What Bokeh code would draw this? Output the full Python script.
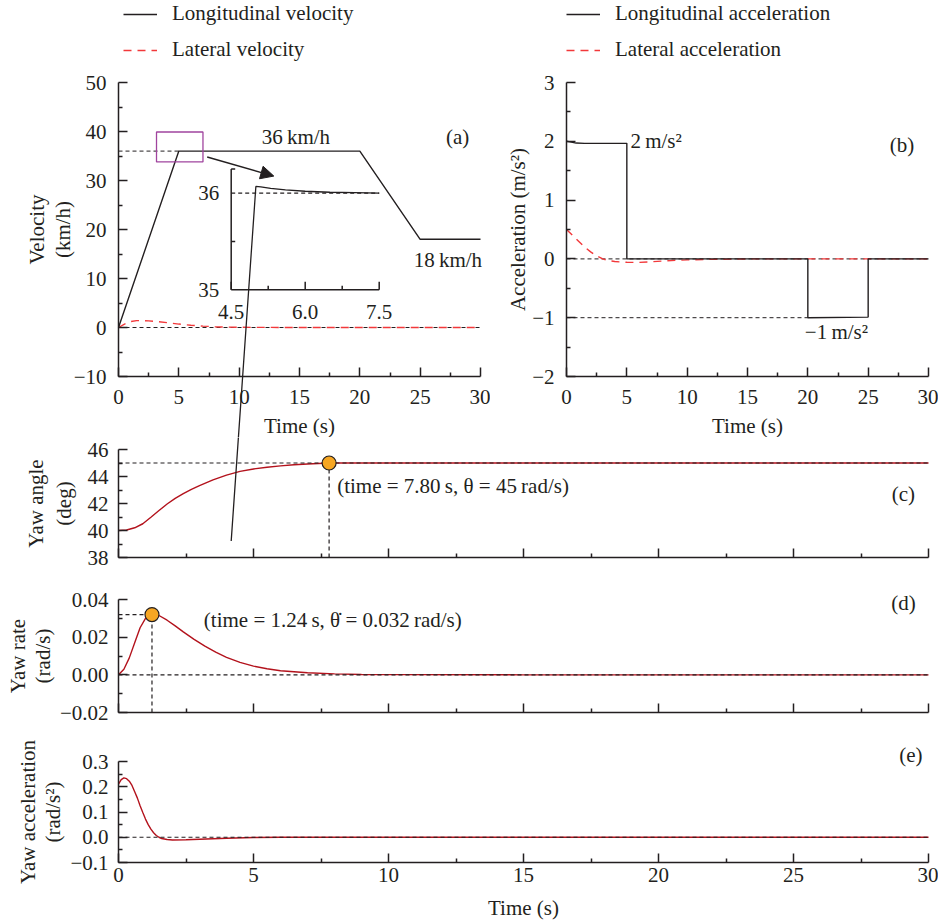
import numpy as np
from bokeh.plotting import figure
from bokeh.layouts import column, row
from bokeh.models import (Range1d, FixedTicker, CustomJSTickFormatter, Legend, LegendItem,
                          Arrow, NormalHead, Label)
from bokeh.core.properties import value
from bokeh.embed import file_html
from bokeh.resources import INLINE

# ---------------- data ----------------
time_ticks = [0, 5, 10, 15, 20, 25, 30]
time_minor = [2.5, 7.5, 12.5, 17.5, 22.5, 27.5]

vel_t = [0, 5, 20, 25, 30]
vel_long = [0, 36, 36, 18, 18]
lat_vel_t = [0, 0.5, 1, 1.5, 2, 2.5, 3, 4, 5, 6, 7, 8, 9, 10, 12, 15, 20, 25, 30]
lat_vel = [0, 0.7, 1.2, 1.4, 1.42, 1.35, 1.25, 1.0, 0.7, 0.45, 0.28, 0.16, 0.09, 0.05, 0.02, 0, 0, 0, 0]
vel_yticks = [-10, 0, 10, 20, 30, 40, 50]
vel_yminor = [-5, 5, 15, 25, 35, 45]
vel_high, vel_low, vel_high_end_t = 36, 18, 5

inset_t = [4.5, 5.0, 5.1, 5.3, 5.6, 6.0, 6.5, 7.0, 7.5]
inset_v = [32.4, 36.07, 36.065, 36.05, 36.035, 36.02, 36.01, 36.005, 36.0]
inset_xticks = [4.5, 6.0, 7.5]
inset_xminor = [5.25, 6.75]
inset_yticks = [35, 36]
inset_yminor = [35.5, 36.25]
zoom_box = [3.15, 7.0, 33.8, 39.9]      # left, right, bottom, top
zoom_arrow = [7.35, 34.8, 12.87, 30.9]  # x0, y0, x1, y1

acc_t = [0, 0.3, 0.8, 1.5, 5, 5, 20, 20, 25, 25, 30]
acc_long = [2.0, 1.99, 1.97, 1.965, 1.965, 0, 0, -1, -0.99, 0, 0]
lat_acc_t = [0, 0.5, 1, 1.5, 2, 2.5, 3, 3.5, 4, 5, 6, 7, 8, 9, 10, 12, 15, 20, 25, 30]
lat_acc = [0.5, 0.4, 0.3, 0.2, 0.12, 0.05, 0.0, -0.03, -0.045, -0.058, -0.06, -0.05, -0.035,
           -0.025, -0.017, -0.008, 0, 0, 0, 0]
acc_yticks = [-2, -1, 0, 1, 2, 3]
acc_yminor = [-1.5, -0.5, 0.5, 1.5, 2.5]
acc_high, acc_low, acc_low_end_t = 2, -1, 20

yaw_t = [0, 0.3, 0.6, 0.9, 1.2, 1.5, 1.8, 2.1, 2.4, 2.7, 3.0, 3.5, 4.0, 4.5, 5.0, 5.5, 6.0,
         6.5, 7.0, 7.8, 10, 15, 20, 25, 30]
yaw_angle = [40.0, 40.04, 40.2, 40.5, 40.98, 41.48, 41.96, 42.38, 42.73, 43.05, 43.33, 43.75,
             44.1, 44.38, 44.56, 44.69, 44.79, 44.87, 44.93, 45.0, 45, 45, 45, 45, 45]
yaw_yticks = [38, 40, 42, 44, 46]
yaw_yminor = [39, 41, 43, 45]
yaw_mark = (7.80, 45)

rate_t = [0, 0.2, 0.4, 0.6, 0.8, 1.0, 1.24, 1.5, 1.8, 2.1, 2.4, 2.8, 3.2, 3.6, 4.0, 4.5, 5.0,
          5.5, 6.0, 7.0, 8.0, 9.0, 10, 15, 20, 25, 30]
yaw_rate = [0, 0.003, 0.009, 0.017, 0.025, 0.030, 0.032, 0.0315, 0.029, 0.026, 0.0228, 0.0188,
            0.0152, 0.0120, 0.0093, 0.0066, 0.0046, 0.0032, 0.0022, 0.0011, 0.0005, 0.0002,
            0.0001, 0, 0, 0, 0]
rate_yticks = [-0.02, 0.0, 0.02, 0.04]
rate_yminor = [-0.01, 0.01, 0.03]
rate_mark = (1.24, 0.032)

yacc_t = [0, 0.1, 0.2, 0.3, 0.4, 0.5, 0.6, 0.7, 0.8, 0.9, 1.0, 1.1, 1.2, 1.3, 1.4, 1.5, 1.6,
          1.8, 2.0, 2.5, 3.0, 3.5, 4, 5, 6, 8, 10, 15, 20, 25, 30]
yaw_acc = [0.21, 0.228, 0.235, 0.232, 0.222, 0.205, 0.18, 0.155, 0.125, 0.098, 0.072, 0.05,
           0.032, 0.018, 0.007, 0.0, -0.005, -0.009, -0.011, -0.010, -0.008, -0.006, -0.004,
           -0.001, 0, 0, 0, 0, 0, 0, 0]
yacc_yticks = [-0.1, 0.0, 0.1, 0.2, 0.3]
yacc_yminor = [-0.05, 0.05, 0.15, 0.25]

# ---------------- style ----------------
FONT = "Liberation Serif"
FS = "21px"
INK = "#231f20"
RED_LAT = "#f2383a"
RED_YAW = "#b3121c"
ORANGE = "#f6a623"
PURPLE = "#a0449e"
DASH_REF = "4 3"
DASH_LAT = "8 6"

# Page geometry (pixels).  Every figure's frame covers its whole canvas and the
# axes are placed with fixed_location, so that labels, legends and the inset
# curve that overflows its box are never clipped.
INS = dict(x0px=230.7, x1px=378.7, y35px=289.3, y36px=192.7)
ROW1_BOTTOM = 437


def lin_range(v0, p0, v1, p1, c0, c1):
    """Range whose screen mapping puts v0 at pixel p0 and v1 at p1 on a canvas c0..c1."""
    k = (p1 - p0) / (v1 - v0)
    return Range1d(v0 + (c0 - p0) / k, v0 + (c1 - p0) / k)


def yrange(v_top, px_top, v_bot, px_bot, c_top, c_bot):
    k = (px_bot - px_top) / (v_top - v_bot)
    return Range1d(v_bot - (c_bot - px_bot) / k, v_top + (px_top - c_top) / k)


def fmt(d):
    return CustomJSTickFormatter(
        code=f"var s = Math.abs(tick).toFixed({d}); return (tick < -1e-12 ? '\\u2212' : '') + s;")


NOLAB = CustomJSTickFormatter(code="return '';")


def make_fig(c_left, c_right, c_top, c_bot, px0, px30, yr):
    p = figure(width=c_right - c_left, height=c_bot - c_top,
               x_range=lin_range(time_ticks[0], px0, time_ticks[-1], px30, c_left, c_right),
               y_range=yr, output_backend="svg", toolbar_location=None,
               min_border_left=0, min_border_right=0, min_border_top=0, min_border_bottom=0)
    p.outline_line_color = None
    p.grid.visible = False
    p.background_fill_color = "white"
    p.border_fill_color = "white"
    return p


def style_axis(ax, ticks, minor, formatter, standoff):
    ax.ticker = FixedTicker(ticks=ticks, minor_ticks=minor)
    ax.formatter = formatter
    ax.axis_label = None
    ax.major_label_text_font = FONT
    ax.major_label_text_font_size = FS
    ax.major_label_text_color = INK
    ax.major_label_standoff = standoff
    ax.axis_line_color = INK
    ax.axis_line_width = 1.5
    ax.major_tick_line_color = INK
    ax.major_tick_line_width = 1.5
    ax.major_tick_in = 9
    ax.major_tick_out = 0
    ax.minor_tick_line_color = INK
    ax.minor_tick_line_width = 1.5
    ax.minor_tick_in = 4
    ax.minor_tick_out = 0


def setup_axes(p, yticks, yminor, yfmt, ystand, xfmt, xstand):
    style_axis(p.xaxis[0], time_ticks, time_minor, xfmt, xstand)
    style_axis(p.yaxis[0], yticks, yminor, yfmt, ystand)
    p.xaxis[0].fixed_location = yticks[0]
    p.xaxis[0].bounds = (time_ticks[0], time_ticks[-1])
    p.yaxis[0].fixed_location = time_ticks[0]
    p.yaxis[0].bounds = (yticks[0], yticks[-1])


def add_text(p, xs, ys, texts, align="center", **kw):
    p.text(x=xs, y=ys, text=texts, text_font=value(FONT), text_font_size=FS,
           text_color=INK, text_align=align, text_baseline="middle", **kw)


def add_tag(p, x, y, text):
    p.add_layout(Label(x=x, y=y, text=text, text_font=FONT, text_font_size=FS,
                       text_color=INK, text_align="center", text_baseline="middle"))


def y_title(p, lines, xs_px, c_left, yticks):
    """Rotated y-axis title lines; x in pixels from the canvas left, centred on the axis."""
    ymid = 0.5 * (yticks[0] + yticks[-1])
    for txt, xp in zip(lines, xs_px):
        p.add_layout(Label(x=xp - c_left, y=ymid, x_units="screen", y_units="data", text=txt,
                           angle=np.pi / 2, text_font=FONT, text_font_size=FS, text_color=INK,
                           text_align="center", text_baseline="middle"))


def x_title(p, y_px, c_bot):
    p.add_layout(Label(x=0.5 * (time_ticks[0] + time_ticks[-1]), y=c_bot - y_px,
                       x_units="data", y_units="screen", text="Time (s)", text_font=FONT,
                       text_font_size=FS, text_color=INK, text_align="center",
                       text_baseline="middle"))


def make_legend(p, items, x, y_from_bottom):
    leg = Legend(items=items, location=(x, y_from_bottom),
                 label_text_font=FONT, label_text_font_size=FS, label_text_color=INK,
                 glyph_width=34, glyph_height=20, label_height=20, spacing=11,
                 label_standoff=15, padding=0, margin=0, border_line_alpha=0,
                 background_fill_alpha=0)
    p.add_layout(leg)


# ---------------- panel (a) ----------------
A = dict(l=0, r=490, t=0, b=ROW1_BOTTOM)
pa = make_fig(A["l"], A["r"], A["t"], A["b"], 118, 480, yrange(50, 82, -10, 376, A["t"], A["b"]))
setup_axes(pa, vel_yticks, vel_yminor, fmt(0), 12, fmt(0), 13)
y_title(pa, ["Velocity", "(km/h)"], [36, 62], A["l"], vel_yticks)
x_title(pa, 425, A["b"])

pa.segment(x0=[0], y0=[0], x1=[30], y1=[0], line_color=INK, line_width=1, line_dash=DASH_REF)
pa.segment(x0=[0], y0=[vel_high], x1=[vel_high_end_t], y1=[vel_high], line_color=INK,
           line_width=1, line_dash=DASH_REF)
r_lat_v = pa.line(lat_vel_t, lat_vel, line_color=RED_LAT, line_width=1.4, line_dash=DASH_LAT)
r_long_v = pa.line(vel_t, vel_long, line_color=INK, line_width=1.4)
pa.quad(left=[zoom_box[0]], right=[zoom_box[1]], bottom=[zoom_box[2]], top=[zoom_box[3]],
        fill_alpha=0, line_color=PURPLE, line_width=1.3)
pa.add_layout(Arrow(end=NormalHead(size=13, fill_color=INK, line_color=INK),
                    x_start=zoom_arrow[0], y_start=zoom_arrow[1],
                    x_end=zoom_arrow[2], y_end=zoom_arrow[3], line_color=INK, line_width=1.4))
add_text(pa, [14.7], [38.9], ["%d\u2009km/h" % vel_high])
add_text(pa, [27.3], [13.7], ["%d\u2009km/h" % vel_low])
add_tag(pa, 28.1, 38.9, "(a)")

# inset, drawn through its own ranges aligned to the inset box
sx = (INS["x1px"] - INS["x0px"]) / (inset_xticks[-1] - inset_xticks[0])
sy = (INS["y35px"] - INS["y36px"]) / (inset_yticks[1] - inset_yticks[0])
x0, y0 = inset_xticks[0], inset_yticks[0]
pa.extra_x_ranges = {"ix": Range1d(x0 - (INS["x0px"] - A["l"]) / sx, x0 + (A["r"] - INS["x0px"]) / sx)}
pa.extra_y_ranges = {"iy": Range1d(y0 - (A["b"] - INS["y35px"]) / sy, y0 + (INS["y35px"] - A["t"]) / sy)}
ikw = dict(x_range_name="ix", y_range_name="iy")
pa.segment(x0=[inset_xticks[0], inset_xticks[0]], y0=[inset_yticks[0], inset_yticks[0]],
           x1=[inset_xticks[0], inset_xticks[-1]], y1=[inset_yminor[-1], inset_yticks[0]],
           line_color=INK, line_width=1.5, **ikw)
pa.ray(x=inset_xticks, y=[inset_yticks[0]] * 3, length=8, angle=np.pi / 2, length_units="screen",
       line_color=INK, line_width=1.5, **ikw)
pa.ray(x=inset_xminor, y=[inset_yticks[0]] * 2, length=4, angle=np.pi / 2, length_units="screen",
       line_color=INK, line_width=1.5, **ikw)
pa.ray(x=[inset_xticks[0]] * 2, y=inset_yminor, length=4, angle=0, length_units="screen",
       line_color=INK, line_width=1.5, **ikw)
pa.segment(x0=[inset_xticks[0]], y0=[inset_yticks[1]], x1=[inset_xticks[-1]], y1=[inset_yticks[1]],
           line_color=INK, line_width=1.2, line_dash=DASH_REF, **ikw)
pa.line(inset_t, inset_v, line_color=INK, line_width=1.3, **ikw)
add_text(pa, inset_xticks, [inset_yticks[0]] * 3, ["%.1f" % v for v in inset_xticks],
         y_offset=22, **ikw)
add_text(pa, [inset_xticks[0]] * 2, inset_yticks, ["%d" % v for v in inset_yticks],
         align="right", x_offset=-12, **ikw)

make_legend(pa, [LegendItem(label="Longitudinal velocity", renderers=[r_long_v]),
                 LegendItem(label="Lateral velocity", renderers=[r_lat_v])], 123 - A["l"], A["b"] - 62)

# ---------------- panel (b) ----------------
B = dict(l=490, r=938, t=0, b=ROW1_BOTTOM)
pb = make_fig(B["l"], B["r"], B["t"], B["b"], 566, 928, yrange(3, 82, -2, 376, B["t"], B["b"]))
setup_axes(pb, acc_yticks, acc_yminor, fmt(0), 12, fmt(0), 13)
y_title(pb, ["Acceleration (m/s\u00b2)"], [517], B["l"], acc_yticks)
x_title(pb, 425, B["b"])
pb.segment(x0=[0, 0], y0=[0, acc_low], x1=[30, acc_low_end_t], y1=[0, acc_low],
           line_color=INK, line_width=1, line_dash=DASH_REF)
r_lat_a = pb.line(lat_acc_t, lat_acc, line_color=RED_LAT, line_width=1.4, line_dash=DASH_LAT)
r_long_a = pb.line(acc_t, acc_long, line_color=INK, line_width=1.4)
add_text(pb, [5.3], [acc_high], ["%d\u2009m/s\u00b2" % acc_high], align="left")
add_text(pb, [22.37], [-1.24], ["\u2212%d\u2009m/s\u00b2" % abs(acc_low)])
add_tag(pb, 27.8, 1.93, "(b)")
make_legend(pb, [LegendItem(label="Longitudinal acceleration", renderers=[r_long_a]),
                 LegendItem(label="Lateral acceleration", renderers=[r_lat_a])], 566 - B["l"], B["b"] - 62)

# ---------------- panel (c) ----------------
C = dict(l=0, r=938, t=ROW1_BOTTOM, b=585)
pc = make_fig(C["l"], C["r"], C["t"], C["b"], 118, 928, yrange(46, 449, 38, 557, C["t"], C["b"]))
setup_axes(pc, yaw_yticks, yaw_yminor, fmt(0), 10, NOLAB, 0)
y_title(pc, ["Yaw angle", "(deg)"], [35, 63], C["l"], yaw_yticks)
pc.line(yaw_t, yaw_angle, line_color=RED_YAW, line_width=1.4)
pc.segment(x0=[0, yaw_mark[0]], y0=[yaw_mark[1], yaw_yticks[0]], x1=[30, yaw_mark[0]],
           y1=[yaw_mark[1], yaw_mark[1]], line_color=INK, line_width=1.2, line_dash=DASH_REF)
pc.scatter([yaw_mark[0]], [yaw_mark[1]], size=14, fill_color=ORANGE, line_color=INK, line_width=1.2)
add_text(pc, [8.1], [43.33], ["(time = %.2f\u2009s, \u03b8 = %d\u2009rad/s)" % yaw_mark], align="left")
add_tag(pc, 29.07, 42.73, "(c)")
# continuation of the inset curve that runs across this panel in the original
pc.extra_x_ranges = {"sx": Range1d(x0 - (INS["x0px"] - C["l"]) / sx, x0 + (C["r"] - INS["x0px"]) / sx)}
pc.extra_y_ranges = {"sy": Range1d(y0 - (C["b"] - INS["y35px"]) / sy, y0 - (C["t"] - INS["y35px"]) / sy)}
pc.line(inset_t, inset_v, line_color=INK, line_width=1.3, x_range_name="sx", y_range_name="sy")

# ---------------- panel (d) ----------------
D = dict(l=0, r=938, t=585, b=730)
pd = make_fig(D["l"], D["r"], D["t"], D["b"], 118, 928, yrange(0.04, 599, -0.02, 712, D["t"], D["b"]))
setup_axes(pd, rate_yticks, rate_yminor, fmt(2), 10, NOLAB, 0)
y_title(pd, ["Yaw rate", "(rad/s)"], [17, 42], D["l"], rate_yticks)
pd.line(rate_t, yaw_rate, line_color=RED_YAW, line_width=1.4)
pd.segment(x0=[0, 0, rate_mark[0]], y0=[0, rate_mark[1], rate_yticks[0]],
           x1=[30, rate_mark[0], rate_mark[0]], y1=[0, rate_mark[1], rate_mark[1]],
           line_color=INK, line_width=1.2, line_dash=DASH_REF)
pd.scatter([rate_mark[0]], [rate_mark[1]], size=14, fill_color=ORANGE, line_color=INK, line_width=1.2)
add_text(pd, [3.16], [0.0293], ["(time = %.2f\u2009s, \u03b8\u0307 = %.3f\u2009rad/s)" % rate_mark], align="left")
add_tag(pd, 29.07, 0.038, "(d)")

# ---------------- panel (e) ----------------
E = dict(l=0, r=938, t=730, b=920)
pe = make_fig(E["l"], E["r"], E["t"], E["b"], 118, 928, yrange(0.3, 761, -0.1, 862, E["t"], E["b"]))
setup_axes(pe, yacc_yticks, yacc_yminor, fmt(1), 10, fmt(0), 5)
y_title(pe, ["Yaw acceleration", "(rad/s\u00b2)"], [27, 52], E["l"], yacc_yticks)
x_title(pe, 907, E["b"])
pe.line(yacc_t, yaw_acc, line_color=RED_YAW, line_width=1.4)
pe.segment(x0=[0], y0=[0], x1=[30], y1=[0], line_color=INK, line_width=1.2, line_dash=DASH_REF)
add_tag(pe, 29.35, 0.324, "(e)")

layout = column(row(pa, pb), pc, pd, pe)
with open("out.html", "w", encoding="utf-8") as f:
    f.write(file_html(layout, INLINE))
